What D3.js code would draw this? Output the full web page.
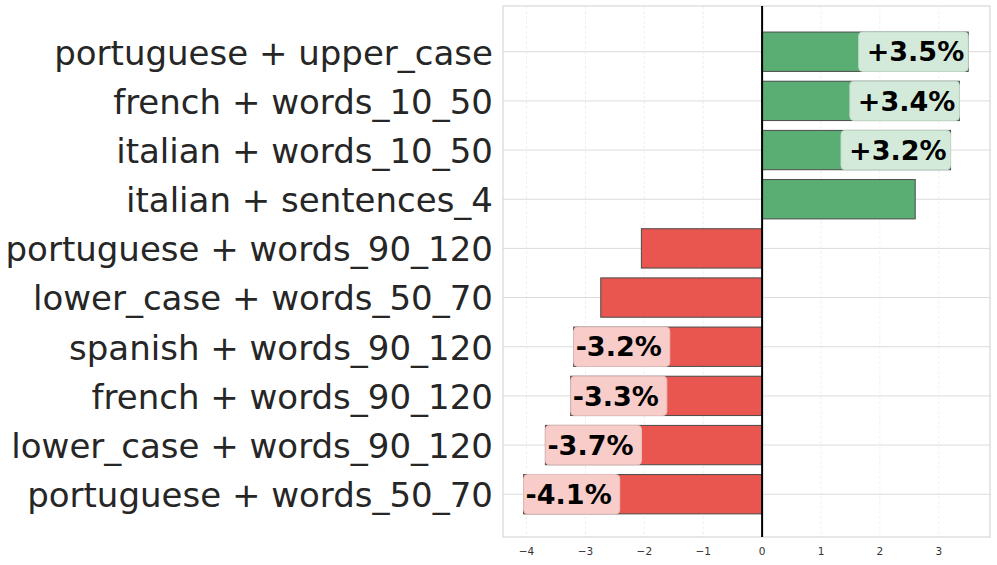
<!DOCTYPE html>
<html>
<head>
<meta charset="utf-8">
<script src="https://cdn.jsdelivr.net/npm/d3@7"></script>
<style>
  body { margin: 0; background: #fff; }
  svg { font-family: "DejaVu Sans", sans-serif; }
</style>
</head>
<body>
<div id="chart"></div>
<script>
// categories top to bottom, values in percentage points
var categories = [
    "portuguese + upper_case",
    "french + words_10_50",
    "italian + words_10_50",
    "italian + sentences_4",
    "portuguese + words_90_120",
    "lower_case + words_50_70",
    "spanish + words_90_120",
    "french + words_90_120",
    "lower_case + words_90_120",
    "portuguese + words_50_70"
];
var values = [3.5, 3.35, 3.2, 2.6, -2.05, -2.74, -3.2, -3.25, -3.68, -4.05];
var labels = ["+3.5%", "+3.4%", "+3.2%", "", "", "", "-3.2%", "-3.3%", "-3.7%", "-4.1%"];
var xTicks = [-4, -3, -2, -1, 0, 1, 2, 3];

var width = 997, height = 565;
var plot = { left: 503, right: 990, top: 6, bottom: 537 };

var svg = d3.select("#chart")
    .append("svg")
    .attr("width", width)
    .attr("height", height);

var x = d3.scaleLinear()
    .domain([-4.4, 3.87])
    .range([plot.left, plot.right]);

var y = d3.scaleLinear()
    .domain([-0.93, categories.length - 1 + 0.87])
    .range([plot.top, plot.bottom]);

var barH = 0.8 * (y(1) - y(0));

// vertical grid
svg.append("g").selectAll("line")
    .data(xTicks)
    .enter().append("line")
    .attr("x1", function (d) { return x(d); })
    .attr("x2", function (d) { return x(d); })
    .attr("y1", plot.top)
    .attr("y2", plot.bottom)
    .attr("stroke", "#ececec")
    .attr("stroke-width", 0.8)
    .attr("stroke-dasharray", "3,2");

// horizontal grid
svg.append("g").selectAll("line")
    .data(categories)
    .enter().append("line")
    .attr("x1", plot.left)
    .attr("x2", plot.right)
    .attr("y1", function (d, i) { return y(i); })
    .attr("y2", function (d, i) { return y(i); })
    .attr("stroke", "#dcdcdc")
    .attr("stroke-width", 1);

// frame
svg.append("rect")
    .attr("x", plot.left)
    .attr("y", plot.top)
    .attr("width", plot.right - plot.left)
    .attr("height", plot.bottom - plot.top)
    .attr("fill", "none")
    .attr("stroke", "#cfcfcf")
    .attr("stroke-width", 1);

// bars
svg.append("g").selectAll("rect")
    .data(values)
    .enter().append("rect")
    .attr("x", function (d) { return x(Math.min(0, d)); })
    .attr("y", function (d, i) { return y(i) - barH / 2; })
    .attr("width", function (d) { return Math.abs(x(d) - x(0)); })
    .attr("height", barH)
    .attr("fill", function (d) { return d >= 0 ? "#5aae73" : "#e8564f"; })
    .attr("stroke", "#4a4a4a")
    .attr("stroke-width", 1);

// zero line
svg.append("line")
    .attr("x1", x(0)).attr("x2", x(0))
    .attr("y1", plot.top).attr("y2", plot.bottom)
    .attr("stroke", "#000")
    .attr("stroke-width", 2);

// value labels with boxes
var lab = svg.append("g");
values.forEach(function (v, i) {
    if (!labels[i]) return;
    var g = lab.append("g");
    var box = g.append("rect");
    var t = g.append("text")
        .attr("y", y(i))
        .attr("dy", "0.36em")
        .style("font-size", "27px")
        .style("font-weight", "bold")
        .attr("fill", "#000")
        .text(labels[i]);
    if (v >= 0) {
        t.attr("x", x(v) - 4).attr("text-anchor", "end");
    } else {
        t.attr("x", x(v) + 2).attr("text-anchor", "start");
    }
    var bb = t.node().getBBox();
    var x0 = v >= 0 ? bb.x - 8 : x(v);
    var x1 = v >= 0 ? x(v) : bb.x + bb.width + 8;
    box.attr("x", x0)
        .attr("y", y(i) - barH / 2)
        .attr("width", x1 - x0)
        .attr("height", barH)
        .attr("rx", 4)
        .attr("fill", v >= 0 ? "#d3eada" : "#f7ccc9")
        .attr("stroke", v >= 0 ? "#c2dcc9" : "#e8c0bd")
        .attr("stroke-width", 1);
});

// category labels
svg.append("g").selectAll("text")
    .data(categories)
    .enter().append("text")
    .attr("x", plot.left - 10)
    .attr("y", function (d, i) { return y(i); })
    .attr("dy", "0.38em")
    .attr("text-anchor", "end")
    .style("font-size", "34px")
    .attr("fill", "#262626")
    .text(function (d) { return d; });

// x tick labels
svg.append("g").selectAll("text")
    .data(xTicks)
    .enter().append("text")
    .attr("x", function (d) { return x(d); })
    .attr("y", 555)
    .attr("text-anchor", "middle")
    .style("font-size", "10.5px")
    .attr("fill", "#333")
    .text(function (d) { return d < 0 ? "\u2212" + Math.abs(d) : d; });
</script>
</body>
</html>
